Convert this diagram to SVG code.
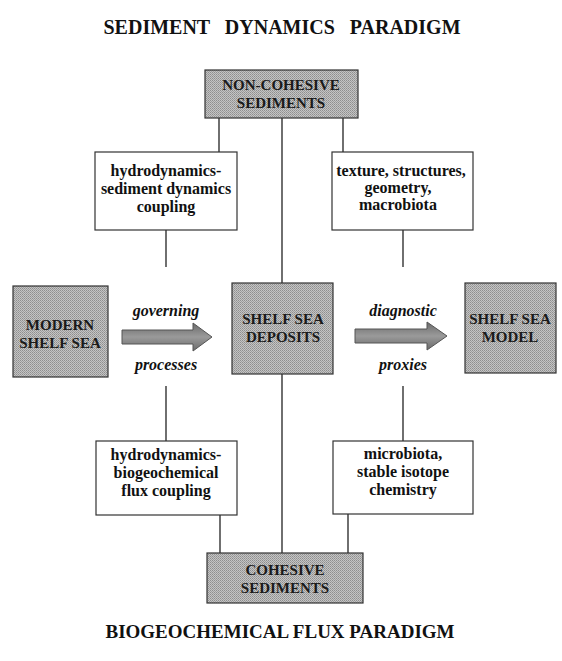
<svg xmlns="http://www.w3.org/2000/svg" width="562" height="661" viewBox="0 0 562 661">
<defs>
<pattern id="ht" width="2" height="2" patternUnits="userSpaceOnUse">
<rect width="2" height="2" fill="#c4c4c4"/>
<rect width="1" height="1" fill="#8e8e8e"/>
<rect x="1" y="1" width="1" height="1" fill="#9e9e9e"/>
</pattern>
<linearGradient id="ag" x1="0" y1="0" x2="0" y2="1">
<stop offset="0" stop-color="#6a6a6a"/>
<stop offset="0.5" stop-color="#9a9a9a"/>
<stop offset="1" stop-color="#6a6a6a"/>
</linearGradient>
</defs>
<style>
.title{font-family:"Liberation Serif","Times New Roman",serif;font-weight:bold;fill:#111;text-anchor:middle}
.g{fill:url(#ht);stroke:#333;stroke-width:1.2}
.w{fill:#fff;stroke:#333;stroke-width:1.2}
.gt{font-family:"Liberation Serif","Times New Roman",serif;font-weight:bold;font-size:15px;fill:#1a1a1a;text-anchor:middle}
.wt{font-family:"Liberation Serif","Times New Roman",serif;font-weight:bold;font-size:16px;fill:#111;text-anchor:middle}
.it{font-family:"Liberation Serif","Times New Roman",serif;font-weight:bold;font-style:italic;font-size:16px;fill:#111;text-anchor:middle}
.ln{stroke:#333;stroke-width:1.4;fill:none}
.arr{fill:url(#ag);stroke:#555;stroke-width:1}
</style>
<rect width="562" height="661" fill="#fff"/>
<text class="title" x="282" y="34" font-size="20" word-spacing="10">SEDIMENT DYNAMICS PARADIGM</text>
<text class="title" x="280" y="638" font-size="19">BIOGEOCHEMICAL FLUX PARADIGM</text>

<g id="connectors">
<line class="ln" x1="219" y1="118" x2="219" y2="152"/>
<line class="ln" x1="343" y1="118" x2="343" y2="152"/>
<line class="ln" x1="282" y1="118" x2="282" y2="283"/>
<line class="ln" x1="282" y1="374" x2="282" y2="553"/>
<line class="ln" x1="166" y1="230" x2="166" y2="267"/>
<line class="ln" x1="403" y1="230" x2="403" y2="267"/>
<line class="ln" x1="166" y1="386" x2="166" y2="441"/>
<line class="ln" x1="403" y1="386" x2="403" y2="441"/>
<line class="ln" x1="220" y1="515" x2="220" y2="553"/>
<line class="ln" x1="348" y1="514" x2="348" y2="553"/>
<path class="arr" d="M122,330 L193,330 L193,323 L212,337 L193,351 L193,344 L122,344 Z"/>
<path class="arr" d="M355,329 L427,329 L427,322 L447,336 L427,350 L427,343 L355,343 Z"/>
</g>

<g id="non-cohesive">
<rect class="g" x="205" y="70" width="153" height="48"/>
<text class="gt" x="281" y="90">NON-COHESIVE</text>
<text class="gt" x="281" y="108">SEDIMENTS</text>
</g>

<g id="hydro-sediment">
<rect class="w" x="95" y="152" width="142" height="78"/>
<text class="wt" x="166" y="176">hydrodynamics-</text>
<text class="wt" x="166" y="194">sediment dynamics</text>
<text class="wt" x="166" y="212">coupling</text>
</g>

<g id="texture">
<rect class="w" x="332" y="152" width="141" height="78"/>
<text class="wt" x="401" y="176">texture, structures,</text>
<text class="wt" x="398" y="193">geometry,</text>
<text class="wt" x="398" y="210">macrobiota</text>
</g>

<g id="modern">
<rect class="g" x="13" y="286" width="95" height="91"/>
<text class="gt" x="60" y="330">MODERN</text>
<text class="gt" x="60" y="348">SHELF SEA</text>
</g>

<g id="deposits">
<rect class="g" x="232" y="283" width="101" height="91"/>
<text class="gt" x="283" y="324">SHELF SEA</text>
<text class="gt" x="283" y="342">DEPOSITS</text>
</g>

<g id="model">
<rect class="g" x="465" y="283" width="91" height="90"/>
<text class="gt" x="510" y="324">SHELF SEA</text>
<text class="gt" x="510" y="342">MODEL</text>
</g>

<g id="labels">
<text class="it" x="166" y="316">governing</text>
<text class="it" x="166" y="370">processes</text>
<text class="it" x="403" y="316">diagnostic</text>
<text class="it" x="403" y="370">proxies</text>
</g>

<g id="hydro-biogeo">
<rect class="w" x="96" y="441" width="141" height="74"/>
<text class="wt" x="166" y="460">hydrodynamics-</text>
<text class="wt" x="166" y="478">biogeochemical</text>
<text class="wt" x="166" y="496">flux coupling</text>
</g>

<g id="microbiota">
<rect class="w" x="333" y="441" width="140" height="73"/>
<text class="wt" x="403" y="459">microbiota,</text>
<text class="wt" x="403" y="477">stable isotope</text>
<text class="wt" x="403" y="495">chemistry</text>
</g>

<g id="cohesive">
<rect class="g" x="207" y="553" width="156" height="50"/>
<text class="gt" x="285" y="575">COHESIVE</text>
<text class="gt" x="285" y="593">SEDIMENTS</text>
</g>
</svg>
